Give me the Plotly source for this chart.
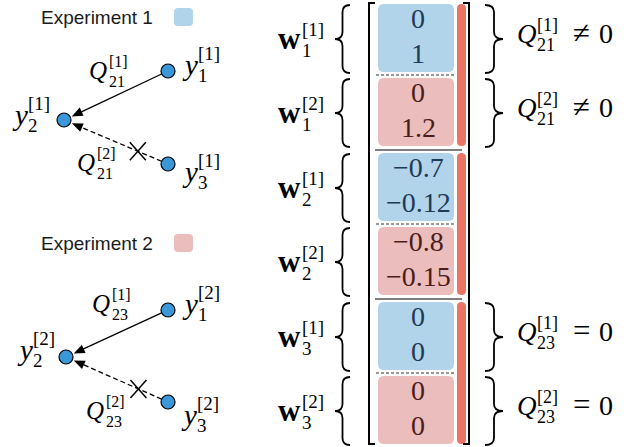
import math
import plotly.graph_objects as go

W, H = 634, 447

# Entries of the stacked weight vector, one pair per block and experiment
exp1_values = [[0, 1], [-0.7, -0.12], [0, 0]]
exp2_values = [[0, 1.2], [-0.8, -0.15], [0, 0]]
block_index = ["1", "2", "3"]
exp_tags = ["[1]", "[2]"]
# Coupling statement written to the right of a block (None = nothing)
block_notes = [("21", "≠"), None, ("23", "=")]
exp_titles = ["Experiment 1", "Experiment 2"]

SERIF = "Liberation Serif"
SANS = "Liberation Sans"
BLUE_FILL = "#b2d4eb"
PINK_FILL = "#ecbdbd"
RED_BAR = "#eb7565"
NODE = "#3a98d8"
BLUE_TXT = "#1d3a56"
PINK_TXT = "#4a1c1c"

shapes = []
annotations = []


def text(x, y, s, size, color="black", family=SERIF, xanchor="left", baseline=True):
    yc = y - 0.34 * size if baseline else y
    annotations.append(dict(x=x, y=yc, xref="x", yref="y", text=s, showarrow=False,
                            font=dict(size=size, color=color, family=family),
                            xanchor=xanchor, yanchor="middle", borderpad=0))


def scripted(x, base_line, base, bw, size, sup, sub, ss, dsup, dsub):
    text(x, base_line, base, size)
    text(x + bw, base_line + dsup, sup, ss)
    text(x + bw, base_line + dsub, sub, ss)


def rrect(x0, y0, x1, y1, r, fill):
    p = (f"M{x0+r},{y0} L{x1-r},{y0} Q{x1},{y0} {x1},{y0+r} L{x1},{y1-r} "
         f"Q{x1},{y1} {x1-r},{y1} L{x0+r},{y1} Q{x0},{y1} {x0},{y1-r} "
         f"L{x0},{y0+r} Q{x0},{y0} {x0+r},{y0} Z")
    shapes.append(dict(type="path", path=p, fillcolor=fill, line=dict(width=0),
                       xref="x", yref="y", layer="below"))


def line(x0, y0, x1, y1, width=1.5, color="black", dash="solid"):
    shapes.append(dict(type="line", x0=x0, y0=y0, x1=x1, y1=y1, xref="x", yref="y",
                       line=dict(color=color, width=width, dash=dash)))


def brace(y0, y1, x_end, x_tip, width=1.8):
    xm = (x_end + x_tip) / 2
    ym = (y0 + y1) / 2
    r = min(7, (y1 - y0) / 4)
    p = (f"M{x_end},{y0} Q{xm},{y0} {xm},{y0+r} L{xm},{ym-r} Q{xm},{ym} {x_tip},{ym} "
         f"Q{xm},{ym} {xm},{ym+r} L{xm},{y1-r} Q{xm},{y1} {x_end},{y1}")
    shapes.append(dict(type="path", path=p, line=dict(color="black", width=width),
                       xref="x", yref="y"))


def fmt(v):
    return f"{v:g}".replace("-", "−")


# ---------------- left: the two small graphs ----------------
node_pos = [
    {"1": (168, 71), "2": (64, 120), "3": (168, 164)},
    {"1": (168, 310), "2": (66, 357), "3": (168, 402)},
]
title_y = [17, 243]
swatch_fill = [BLUE_FILL, PINK_FILL]
R_NODE = 7


def arrow(src, dst, dash):
    dx, dy = dst[0] - src[0], dst[1] - src[1]
    d = math.hypot(dx, dy)
    ux, uy = dx / d, dy / d
    sx, sy = src[0] + ux * R_NODE, src[1] + uy * R_NODE
    tx, ty = dst[0] - ux * (R_NODE + 1.5), dst[1] - uy * (R_NODE + 1.5)
    L, hw = 11, 4.5
    bx, by = tx - ux * L, ty - uy * L
    line(sx, sy, bx + ux * 2, by + uy * 2, width=1.3, dash=dash)
    px, py = -uy, ux
    p = (f"M{tx},{ty} L{bx + px*hw},{by + py*hw} L{bx - px*hw},{by - py*hw} Z")
    shapes.append(dict(type="path", path=p, fillcolor="black", line=dict(width=0),
                       xref="x", yref="y"))


for e in range(2):
    pos = node_pos[e]
    text(97, title_y[e], exp_titles[e], 19, color="#1a1a1a", family=SANS,
         xanchor="center", baseline=False)
    rrect(174, title_y[e] - 9, 193, title_y[e] + 9, 4, swatch_fill[e])
    arrow(pos["1"], pos["2"], "solid")
    arrow(pos["3"], pos["2"], "5px,3px")
    # cross on the removed edge
    cx = pos["3"][0] + (pos["2"][0] - pos["3"][0]) * 0.29
    cy = pos["3"][1] + (pos["2"][1] - pos["3"][1]) * 0.29
    line(cx - 8, cy - 9, cx + 8, cy + 9, width=1.5)
    line(cx - 8, cy + 9, cx + 8, cy - 9, width=1.5)

nx = [p[k][0] for p in node_pos for k in ("1", "2", "3")]
ny = [p[k][1] for p in node_pos for k in ("1", "2", "3")]

# node labels y_k^[e]
node_labels = [
    # x, baseline, exp, node
    (181, 75, 0, "1"), (11, 125, 0, "2"), (181, 182, 0, "3"),
    (181, 314, 1, "1"), (16, 360, 1, "2"), (180, 425, 1, "3"),
]
for x, b, e, k in node_labels:
    scripted(x, b, "<i>y</i>", 16, 29, exp_tags[e], k, 19, -15, 7)

# edge labels Q_ij^[e]
edge_labels = [
    (88, 79, "21", "[1]"), (76, 171, "21", "[2]"),
    (91, 312, "23", "[1]"), (85, 419, "23", "[2]"),
]
for x, b, ij, tag in edge_labels:
    scripted(x, b, "<i>Q</i>", 20, 25, tag, ij, 16, -12, 8)

# ---------------- right: stacked weight vector ----------------
BOX_X0, BOX_X1 = 378, 454
BAR_X0, BAR_X1 = 457, 466
GROUP_TOP, GROUP_STEP, BOX_H, BOX_STEP = 4, 149, 68, 74
fills = [BLUE_FILL, PINK_FILL]
txt_cols = [BLUE_TXT, PINK_TXT]
values = [exp1_values, exp2_values]

for g in range(len(block_index)):
    gt = GROUP_TOP + g * GROUP_STEP
    # red bar spanning the whole block
    rrect(BAR_X0, gt, BAR_X1, gt + BOX_STEP + BOX_H, 4.5, RED_BAR)
    # dashed divider between the two experiments
    line(BOX_X0 - 2, gt + BOX_H + 3, BOX_X1 + 2, gt + BOX_H + 3, width=1.2,
         color="#333333", dash="3px,2px")
    if g > 0:
        line(375, gt - 3, 462, gt - 3, width=1.6, color="#555555")
    for e in range(2):
        top = gt + e * BOX_STEP
        rrect(BOX_X0, top, BOX_X1, top + BOX_H, 6, fills[e])
        for r, v in enumerate(values[e][g]):
            text(418, top + 24 + r * 35, fmt(v), 28, color=txt_cols[e], xanchor="center")
        yc = top + BOX_H / 2
        brace(top + 1, top + BOX_H + 1, 350, 335)
        scripted(277, yc + 11, "<b>w</b>", 24, 31, exp_tags[e], block_index[g], 19, -13, 8)
        note = block_notes[g]
        if note is not None:
            brace(top + 1, top + BOX_H + 1, 485, 503)
            b = yc + 5
            scripted(516, b, "<i>Q</i>", 20, 27, exp_tags[e], note[0], 18, -12, 8)
            text(581, b, note[1], 31, xanchor="center")
            text(606, b, "0", 28, xanchor="center")

# matrix brackets
y_top, y_bot = 3, 444
line(369, y_top, 369, y_bot, width=2)
line(368, y_top, 375, y_top, width=2)
line(368, y_bot, 375, y_bot, width=2)
line(469, y_top, 469, y_bot, width=2)
line(463, y_top, 470, y_top, width=2)
line(463, y_bot, 470, y_bot, width=2)

fig = go.Figure()
fig.add_trace(go.Scatter(x=nx, y=ny, mode="markers",
                         marker=dict(size=14, color=NODE, line=dict(color="black", width=1.2)),
                         hoverinfo="skip"))
fig.update_layout(
    width=W, height=H, margin=dict(l=0, r=0, t=0, b=0),
    paper_bgcolor="white", plot_bgcolor="white", showlegend=False,
    xaxis=dict(range=[0, W], visible=False, fixedrange=True),
    yaxis=dict(range=[H, 0], visible=False, fixedrange=True),
    shapes=shapes, annotations=annotations,
)
fig.write_html("out.html")
